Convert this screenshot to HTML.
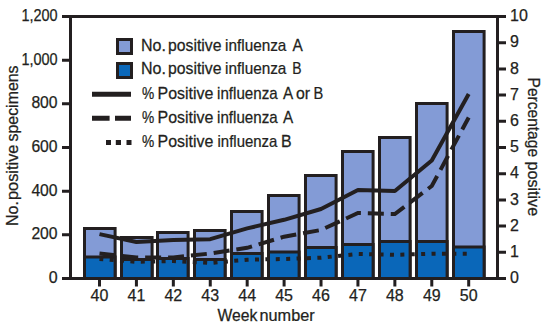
<!DOCTYPE html><html><head><meta charset="utf-8"><style>html,body{margin:0;padding:0;background:#fff;width:545px;height:329px;overflow:hidden}svg{display:block}text{font-family:"Liberation Sans",sans-serif;fill:#231F20;stroke:#231F20;stroke-width:0.25px;font-size:16px}</style></head><body>
<svg width="545" height="329" viewBox="0 0 545 329">
<rect x="84.5" y="228.5" width="30.6" height="50" fill="#839BD6" stroke="#231F20" stroke-width="3"/>
<rect x="121.5" y="237.5" width="30.6" height="41" fill="#839BD6" stroke="#231F20" stroke-width="3"/>
<rect x="157.5" y="232.5" width="30.6" height="46" fill="#839BD6" stroke="#231F20" stroke-width="3"/>
<rect x="194.5" y="230.5" width="30.6" height="48" fill="#839BD6" stroke="#231F20" stroke-width="3"/>
<rect x="231.5" y="211.5" width="30.6" height="67" fill="#839BD6" stroke="#231F20" stroke-width="3"/>
<rect x="268.5" y="195.5" width="30.6" height="83" fill="#839BD6" stroke="#231F20" stroke-width="3"/>
<rect x="305.5" y="175.5" width="30.6" height="103" fill="#839BD6" stroke="#231F20" stroke-width="3"/>
<rect x="342.5" y="151.5" width="30.6" height="127" fill="#839BD6" stroke="#231F20" stroke-width="3"/>
<rect x="379.5" y="137.5" width="30.6" height="141" fill="#839BD6" stroke="#231F20" stroke-width="3"/>
<rect x="416.5" y="103.5" width="30.6" height="175" fill="#839BD6" stroke="#231F20" stroke-width="3"/>
<rect x="453.5" y="31.5" width="30.6" height="247" fill="#839BD6" stroke="#231F20" stroke-width="3"/>
<rect x="84.5" y="257" width="30.6" height="21.5" fill="#0A67B9" stroke="#231F20" stroke-width="3"/>
<rect x="121.5" y="259.5" width="30.6" height="19" fill="#0A67B9" stroke="#231F20" stroke-width="3"/>
<rect x="157.5" y="258.5" width="30.6" height="20" fill="#0A67B9" stroke="#231F20" stroke-width="3"/>
<rect x="194.5" y="259.5" width="30.6" height="19" fill="#0A67B9" stroke="#231F20" stroke-width="3"/>
<rect x="231.5" y="253.5" width="30.6" height="25" fill="#0A67B9" stroke="#231F20" stroke-width="3"/>
<rect x="268.5" y="252" width="30.6" height="26.5" fill="#0A67B9" stroke="#231F20" stroke-width="3"/>
<rect x="305.5" y="247.5" width="30.6" height="31" fill="#0A67B9" stroke="#231F20" stroke-width="3"/>
<rect x="342.5" y="244.5" width="30.6" height="34" fill="#0A67B9" stroke="#231F20" stroke-width="3"/>
<rect x="379.5" y="241.5" width="30.6" height="37" fill="#0A67B9" stroke="#231F20" stroke-width="3"/>
<rect x="416.5" y="241.5" width="30.6" height="37" fill="#0A67B9" stroke="#231F20" stroke-width="3"/>
<rect x="453.5" y="247" width="30.6" height="31.5" fill="#0A67B9" stroke="#231F20" stroke-width="3"/>
<polyline points="99.5,259 136.42,261.8 173.34,261 210.26,263 247.18,259.7 284.1,259 321.02,257.7 357.94,254 394.86,254.8 431.78,253.8 468.7,253.8" fill="none" stroke="#231F20" stroke-width="4" stroke-dasharray="4 6.4" stroke-dashoffset="0.2"/>
<polyline points="99.5,253.5 136.42,257.5 173.34,257.5 210.26,253.5 247.18,247.8 284.1,236.7 321.02,230 357.94,213 394.86,214 431.78,186 468.7,117.5" fill="none" stroke="#231F20" stroke-width="4" stroke-dasharray="16 6.93"/>
<polyline points="99.5,234.1 136.42,242 173.34,240 210.26,239.2 247.18,228.4 284.1,219.8 321.02,209 357.94,190 394.86,191 431.78,160.5 468.7,94" fill="none" stroke="#231F20" stroke-width="4" stroke-linejoin="round"/>
<path d="M62 16.5 H506 M62 278.5 H506 M70.5 15 V280 M497.5 15 V280" stroke="#231F20" stroke-width="3" fill="none"/>
<path d="M62 278.5 H70.5 M62 234.83 H70.5 M62 191.17 H70.5 M62 147.5 H70.5 M62 103.83 H70.5 M62 60.17 H70.5 M62 16.5 H70.5 M497.5 278.5 H506 M497.5 252.3 H506 M497.5 226.1 H506 M497.5 199.9 H506 M497.5 173.7 H506 M497.5 147.5 H506 M497.5 121.3 H506 M497.5 95.1 H506 M497.5 68.9 H506 M497.5 42.7 H506 M497.5 16.5 H506 M99.5 278.5 V286.5 M136.42 278.5 V286.5 M173.34 278.5 V286.5 M210.26 278.5 V286.5 M247.18 278.5 V286.5 M284.1 278.5 V286.5 M321.02 278.5 V286.5 M357.94 278.5 V286.5 M394.86 278.5 V286.5 M431.78 278.5 V286.5 M468.7 278.5 V286.5" stroke="#231F20" stroke-width="3" fill="none"/>
<text x="57.6" y="283.1" text-anchor="end" textLength="8.9" lengthAdjust="spacingAndGlyphs">0</text>
<text x="57.6" y="239.43" text-anchor="end" textLength="26.2" lengthAdjust="spacingAndGlyphs">200</text>
<text x="57.6" y="195.77" text-anchor="end" textLength="26.2" lengthAdjust="spacingAndGlyphs">400</text>
<text x="57.6" y="152.1" text-anchor="end" textLength="26.2" lengthAdjust="spacingAndGlyphs">600</text>
<text x="57.6" y="108.43" text-anchor="end" textLength="26.2" lengthAdjust="spacingAndGlyphs">800</text>
<text x="57.6" y="64.77" text-anchor="end" textLength="36.2" lengthAdjust="spacingAndGlyphs">1,000</text>
<text x="57.6" y="21.1" text-anchor="end" textLength="36.2" lengthAdjust="spacingAndGlyphs">1,200</text>
<text x="510" y="283.1" textLength="8.9" lengthAdjust="spacingAndGlyphs">0</text>
<text x="510" y="256.9" textLength="8.9" lengthAdjust="spacingAndGlyphs">1</text>
<text x="510" y="230.7" textLength="8.9" lengthAdjust="spacingAndGlyphs">2</text>
<text x="510" y="204.5" textLength="8.9" lengthAdjust="spacingAndGlyphs">3</text>
<text x="510" y="178.3" textLength="8.9" lengthAdjust="spacingAndGlyphs">4</text>
<text x="510" y="152.1" textLength="8.9" lengthAdjust="spacingAndGlyphs">5</text>
<text x="510" y="125.9" textLength="8.9" lengthAdjust="spacingAndGlyphs">6</text>
<text x="510" y="99.7" textLength="8.9" lengthAdjust="spacingAndGlyphs">7</text>
<text x="510" y="73.5" textLength="8.9" lengthAdjust="spacingAndGlyphs">8</text>
<text x="510" y="47.3" textLength="8.9" lengthAdjust="spacingAndGlyphs">9</text>
<text x="510" y="21.1" textLength="17.8" lengthAdjust="spacingAndGlyphs">10</text>
<text x="99.5" y="301" text-anchor="middle" textLength="17.8" lengthAdjust="spacingAndGlyphs">40</text>
<text x="136.42" y="301" text-anchor="middle" textLength="17.8" lengthAdjust="spacingAndGlyphs">41</text>
<text x="173.34" y="301" text-anchor="middle" textLength="17.8" lengthAdjust="spacingAndGlyphs">42</text>
<text x="210.26" y="301" text-anchor="middle" textLength="17.8" lengthAdjust="spacingAndGlyphs">43</text>
<text x="247.18" y="301" text-anchor="middle" textLength="17.8" lengthAdjust="spacingAndGlyphs">44</text>
<text x="284.1" y="301" text-anchor="middle" textLength="17.8" lengthAdjust="spacingAndGlyphs">45</text>
<text x="321.02" y="301" text-anchor="middle" textLength="17.8" lengthAdjust="spacingAndGlyphs">46</text>
<text x="357.94" y="301" text-anchor="middle" textLength="17.8" lengthAdjust="spacingAndGlyphs">47</text>
<text x="394.86" y="301" text-anchor="middle" textLength="17.8" lengthAdjust="spacingAndGlyphs">48</text>
<text x="431.78" y="301" text-anchor="middle" textLength="17.8" lengthAdjust="spacingAndGlyphs">49</text>
<text x="468.7" y="301" text-anchor="middle" textLength="17.8" lengthAdjust="spacingAndGlyphs">50</text>
<text transform="translate(140.96,50.7) scale(1.0021,1)">No.</text>
<text transform="translate(168,50.7) scale(0.9851,1)">positive</text>
<text transform="translate(225.04,50.7) scale(0.9588,1)">influenza</text>
<text transform="translate(292.49,50.7) scale(0.9641,1)">A</text>
<text transform="translate(140.96,74.3) scale(1.0021,1)">No.</text>
<text transform="translate(168,74.3) scale(0.9851,1)">positive</text>
<text transform="translate(225.04,74.3) scale(0.9588,1)">influenza</text>
<text transform="translate(292.13,74.3) scale(0.8721,1)">B</text>
<text transform="translate(142,98.6) scale(0.8599,1)">%</text>
<text transform="translate(157.5,98.6) scale(0.9965,1)">Positive</text>
<text transform="translate(217.05,98.6) scale(0.9465,1)">influenza</text>
<text transform="translate(283.01,98.6) scale(0.9556,1)">A</text>
<text transform="translate(295.95,98.6) scale(0.9926,1)">or</text>
<text transform="translate(313.61,98.6) scale(0.9155,1)">B</text>
<text transform="translate(142,122.6) scale(0.8599,1)">%</text>
<text transform="translate(157.5,122.6) scale(0.9965,1)">Positive</text>
<text transform="translate(217.05,122.6) scale(0.9465,1)">influenza</text>
<text transform="translate(283.01,122.6) scale(0.9556,1)">A</text>
<text transform="translate(142,147.1) scale(0.8599,1)">%</text>
<text transform="translate(157.5,147.1) scale(0.9965,1)">Positive</text>
<text transform="translate(217.54,147.1) scale(0.9345,1)">influenza</text>
<text transform="translate(280.97,147.1) scale(0.9967,1)">B</text>
<text transform="translate(217.5,321.3) scale(0.9807,1)">Week</text>
<text transform="translate(259.48,321.3) scale(1.0187,1)">number</text>
<text transform="translate(17.5,226.03) rotate(-90) scale(1.0010,1)">No.</text>
<text transform="translate(17.5,200.03) rotate(-90) scale(1.0228,1)">positive</text>
<text transform="translate(17.5,141.51) rotate(-90) scale(0.9950,1)">specimens</text>
<text transform="translate(527.5,77.53) rotate(90) scale(0.9726,1)">Percentage</text>
<text transform="translate(527.5,161.47) rotate(90) scale(1.0080,1)">positive</text>
<rect x="117.5" y="39.5" width="14" height="14" fill="#839BD6" stroke="#231F20" stroke-width="3"/>
<rect x="117.5" y="63.5" width="14" height="14" fill="#0A67B9" stroke="#231F20" stroke-width="3"/>
<path d="M92 94.3 H131" stroke="#231F20" stroke-width="5"/>
<path d="M92 118.2 H109.6 M115 118.2 H131" stroke="#231F20" stroke-width="5"/>
<path d="M106 142.6 H111 M115.8 142.6 H121 M126.5 142.6 H131.5" stroke="#231F20" stroke-width="5"/>
</svg></body></html>
